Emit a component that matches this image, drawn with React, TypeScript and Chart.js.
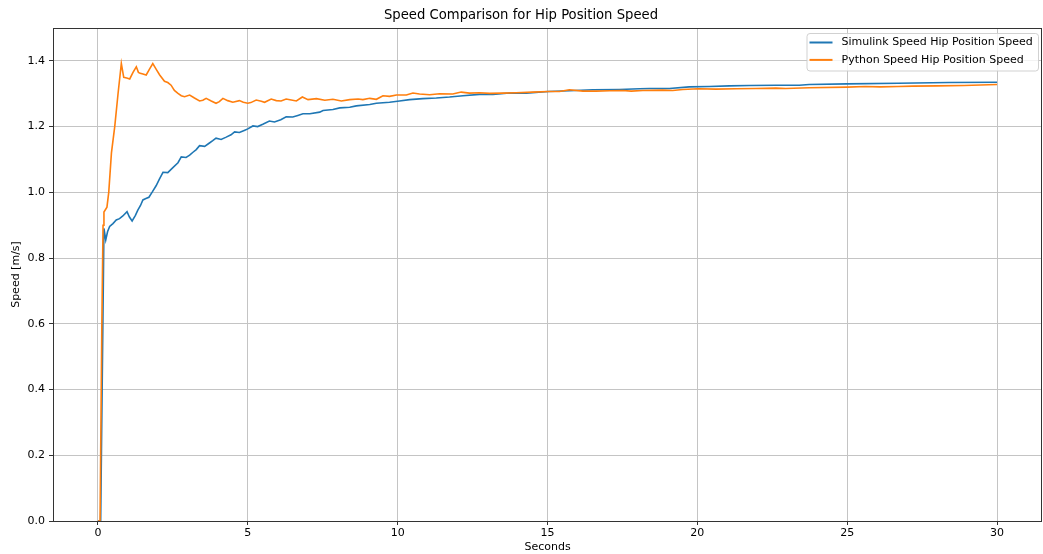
import React, { useEffect, useRef } from "react";
import { Chart, registerables } from "chart.js";

Chart.register(...registerables);

const chartTitle = "Speed Comparison for Hip Position Speed";
const xAxisLabel = "Seconds";
const yAxisLabel = "Speed [m/s]";
const seriesLabels = ["Simulink Speed Hip Position Speed", "Python Speed Hip Position Speed"];
const seriesColors = ["#1f77b4", "#ff7f0e"];

const xTicks = [0, 5, 10, 15, 20, 25, 30];
const yTicks = [0, 0.2, 0.4, 0.6, 0.8, 1.0, 1.2, 1.4];

const simTime = [
  0, 0.09, 0.2, 0.26, 0.32, 0.39, 0.5, 0.61, 0.72, 0.83, 0.97, 1.05, 1.14, 1.25, 1.33, 1.42, 1.5, 1.6, 1.7,
  1.82, 1.94, 2.05, 2.17, 2.33, 2.5, 2.67, 2.78, 2.94, 3.06, 3.17, 3.28, 3.39, 3.56, 3.72, 3.83, 3.94, 4.11,
  4.28, 4.44, 4.56, 4.72, 4.9, 5.0, 5.17, 5.33, 5.5, 5.72, 5.89, 6.1, 6.28, 6.5, 6.67, 6.84, 7.07, 7.4, 7.51,
  7.84, 8.07, 8.4, 8.62, 9.07, 9.29, 9.73, 10.06, 10.4, 10.84, 11.29, 11.73, 12.18, 12.73, 13.18, 13.73,
  14.29, 15.03, 15.73, 16.51, 17.4, 18.07, 18.4, 19.07, 19.73, 20.4, 21.07, 21.73, 22.62, 23.4, 23.73, 25.0,
  26.7, 28.4, 30.0,
];
const simSpeed = [
  0, 0, 0.89, 0.855, 0.88, 0.896, 0.905, 0.916, 0.92, 0.928, 0.941, 0.925, 0.913, 0.93, 0.946, 0.96, 0.977,
  0.981, 0.985, 1.002, 1.02, 1.04, 1.061, 1.06, 1.075, 1.09, 1.108, 1.106, 1.113, 1.122, 1.13, 1.142, 1.14,
  1.15, 1.157, 1.165, 1.161, 1.168, 1.175, 1.184, 1.182, 1.189, 1.193, 1.202, 1.2, 1.207, 1.217, 1.214, 1.221,
  1.23, 1.229, 1.234, 1.239, 1.239, 1.244, 1.249, 1.252, 1.257, 1.259, 1.263, 1.267, 1.271, 1.274, 1.278,
  1.282, 1.285, 1.287, 1.29, 1.294, 1.298, 1.298, 1.302, 1.302, 1.307, 1.309, 1.312, 1.313, 1.315, 1.316,
  1.316, 1.321, 1.322, 1.324, 1.325, 1.326, 1.326, 1.328, 1.33, 1.332, 1.334, 1.335,
];

const pyTime = [
  0, 0.07, 0.13, 0.17, 0.2, 0.3, 0.36, 0.45, 0.56, 0.67, 0.78, 0.86, 0.96, 1.06, 1.17, 1.28, 1.35, 1.41, 1.5,
  1.61, 1.72, 1.83, 1.94, 2.06, 2.22, 2.33, 2.44, 2.55, 2.67, 2.78, 2.89, 3.06, 3.22, 3.39, 3.5, 3.61, 3.78,
  3.94, 4.05, 4.17, 4.33, 4.5, 4.72, 4.85, 5.0, 5.1, 5.28, 5.45, 5.56, 5.78, 5.95, 6.11, 6.28, 6.45, 6.62,
  6.82, 7.01, 7.29, 7.57, 7.84, 8.12, 8.4, 8.68, 8.84, 9.07, 9.29, 9.51, 9.73, 9.96, 10.29, 10.51, 10.73,
  11.07, 11.4, 11.84, 12.12, 12.4, 12.73, 13.07, 13.51, 13.95, 14.51, 15.03, 15.4, 15.73, 16.18, 16.62,
  17.07, 17.51, 17.79, 18.18, 18.84, 19.18, 19.51, 20.03, 20.62, 21.29, 21.95, 22.62, 22.95, 23.73, 25.0,
  25.6, 26.1, 26.7, 27.2, 28.0, 28.9, 30.0,
];
const pySpeed = [
  0, 0, 0.6, 0.9, 0.94, 0.955, 1.0, 1.12, 1.2, 1.3, 1.392, 1.35, 1.348, 1.345, 1.365, 1.382, 1.365, 1.362,
  1.36, 1.357, 1.375, 1.392, 1.375, 1.357, 1.338, 1.334, 1.326, 1.31, 1.301, 1.294, 1.291, 1.296, 1.287,
  1.278, 1.28, 1.286, 1.278, 1.271, 1.276, 1.286, 1.279, 1.274, 1.279, 1.274, 1.271, 1.273, 1.281, 1.277,
  1.274, 1.284, 1.279, 1.278, 1.284, 1.281, 1.278, 1.29, 1.282, 1.285, 1.28, 1.283, 1.278, 1.282, 1.284,
  1.282, 1.286, 1.283, 1.294, 1.292, 1.296, 1.296, 1.302, 1.299, 1.297, 1.3, 1.299, 1.305, 1.302, 1.303,
  1.301, 1.302, 1.303, 1.305, 1.307, 1.307, 1.312, 1.308, 1.308, 1.309, 1.31, 1.308, 1.31, 1.311, 1.31,
  1.313, 1.315, 1.314, 1.315, 1.316, 1.317, 1.316, 1.318, 1.32, 1.322, 1.321, 1.322, 1.323, 1.324, 1.325,
  1.328,
];

const FONT = "'DejaVu Sans', sans-serif";
const SMALL = 11;
const TITLE_SIZE = 13.2;

const framePlugin = {
  id: "frame",
  afterDatasetsDraw(chart: any) {
    const { ctx, chartArea } = chart;
    const l = Math.round(chartArea.left) + 0.5;
    const t = Math.round(chartArea.top) + 0.5;
    const r = Math.round(chartArea.right) - 0.5;
    const b = Math.round(chartArea.bottom) + 0.5;
    ctx.save();
    ctx.strokeStyle = "#333333";
    ctx.lineWidth = 1;
    ctx.strokeRect(l, t, r - l, b - t);
    ctx.restore();
  },
  afterDraw(chart: any) {
    const { ctx, chartArea } = chart;
    const boxRight = chartArea.right - 4;
    const boxLeft = boxRight - 231.5;
    const boxTop = chartArea.top + 5;
    const boxH = 37.5;
    ctx.save();
    ctx.beginPath();
    const rad = 3;
    (ctx as any).roundRect(boxLeft + 0.5, boxTop + 0.5, boxRight - boxLeft, boxH, rad);
    ctx.fillStyle = "rgba(255,255,255,0.8)";
    ctx.fill();
    ctx.strokeStyle = "rgba(204,204,204,0.9)";
    ctx.lineWidth = 1;
    ctx.stroke();
    ctx.font = `${SMALL}px ${FONT}`;
    ctx.textBaseline = "middle";
    ctx.textAlign = "left";
    seriesLabels.forEach((lab, i) => {
      const y = boxTop + 9.5 + i * 17.4;
      ctx.strokeStyle = seriesColors[i];
      ctx.lineWidth = 2;
      ctx.beginPath();
      ctx.moveTo(boxLeft + 3, y);
      ctx.lineTo(boxLeft + 26, y);
      ctx.stroke();
      ctx.fillStyle = "#000";
      ctx.fillText(lab, boxLeft + 35, y);
    });
    ctx.restore();
  },
};

export default function App() {
  const ref = useRef<HTMLCanvasElement | null>(null);
  useEffect(() => {
    if (!ref.current) return;
    Chart.defaults.color = "#000";
    Chart.defaults.font.family = FONT;
    const chart = new Chart(ref.current, {
      type: "line",
      data: {
        datasets: [
          {
            label: seriesLabels[0],
            data: simTime.map((t, i) => ({ x: t, y: simSpeed[i] })),
            borderColor: seriesColors[0],
            backgroundColor: seriesColors[0],
            borderWidth: 1.6,
            pointRadius: 0,
            tension: 0,
            order: 1,
          },
          {
            label: seriesLabels[1],
            data: pyTime.map((t, i) => ({ x: t, y: pySpeed[i] })),
            borderColor: seriesColors[1],
            backgroundColor: seriesColors[1],
            borderWidth: 1.6,
            pointRadius: 0,
            tension: 0,
            order: 0,
          },
        ],
      },
      options: {
        responsive: false,
        animation: false,
        events: [],
        layout: { padding: { left: 0, right: 1, top: 0, bottom: 0 } },
        plugins: {
          legend: { display: false },
          tooltip: { enabled: false },
          title: {
            display: true,
            text: chartTitle,
            color: "#000",
            font: { family: FONT, size: TITLE_SIZE, weight: "normal", lineHeight: 1.2 },
            padding: { top: 8, bottom: 4.16 },
          },
        },
        scales: {
          x: {
            type: "linear",
            min: -1.5,
            max: 31.5,
            afterBuildTicks: (s: any) => {
              s.ticks = xTicks.map((v) => ({ value: v }));
            },
            afterFit: (s: any) => {
              s.height = 33;
            },
            border: { display: false },
            grid: { color: "#c4c4c4", lineWidth: 1, tickLength: 4, tickColor: "#333", drawTicks: true },
            ticks: {
              color: "#000",
              font: { family: FONT, size: SMALL },
              padding: 2,
              maxRotation: 0,
              callback: (v: any) => String(v),
            },
            title: {
              display: true,
              text: xAxisLabel,
              color: "#000",
              font: { family: FONT, size: SMALL },
              padding: { top: 0, bottom: 0 },
            },
          },
          y: {
            type: "linear",
            min: 0,
            max: 1.5,
            afterBuildTicks: (s: any) => {
              s.ticks = yTicks.map((v) => ({ value: v }));
            },
            afterFit: (s: any) => {
              s.width = 53;
            },
            border: { display: false },
            grid: { color: "#c4c4c4", lineWidth: 1, tickLength: 4, tickColor: "#333", drawTicks: true },
            ticks: {
              color: "#000",
              font: { family: FONT, size: SMALL },
              padding: 4,
              callback: (v: any) => Number(v).toFixed(1),
            },
            title: {
              display: true,
              text: yAxisLabel,
              color: "#000",
              font: { family: FONT, size: SMALL },
              padding: { top: 10, bottom: 0 },
            },
          },
        },
      },
      plugins: [framePlugin],
    } as any);
    return () => chart.destroy();
  }, []);
  return (
    <div style={{ position: "fixed", left: 0, top: 0, width: 1043, height: 554, background: "#fff" }}>
      <canvas ref={ref} width={1043} height={554} style={{ display: "block" }} />
    </div>
  );
}
